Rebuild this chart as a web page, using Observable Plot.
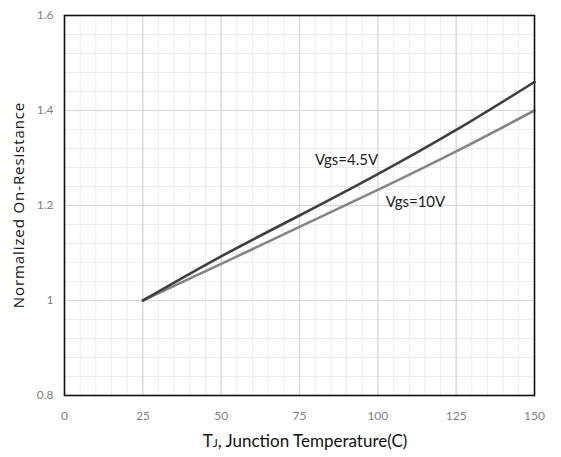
<!DOCTYPE html>
<html>
<head>
<meta charset="utf-8">
<script src="https://cdn.jsdelivr.net/npm/d3@7"></script>
<script src="https://cdn.jsdelivr.net/npm/@observablehq/plot@0.6"></script>
<style>
  html, body { margin: 0; padding: 0; background: #fff; }
  #chart svg { display: block; }
</style>
</head>
<body>
<div id="chart"></div>
<script>
const temperature = [25, 50, 75, 100, 125, 150];
const vgs45 = [1.0, 1.093, 1.179, 1.266, 1.359, 1.46];
const vgs10 = [1.0, 1.077, 1.155, 1.233, 1.314, 1.40];
const seriesNames = ["Vgs=4.5V", "Vgs=10V"];
const xTicks = [0, 25, 50, 75, 100, 125, 150];
const yTicks = [0.8, 1.0, 1.2, 1.4, 1.6];
const xMinor = d3.range(0, 151, 5);
const yMinor = d3.range(0.8, 1.6001, 0.04);
const labelPos = [
  {name: "Vgs=4.5V", t: 90, v: 1.295},
  {name: "Vgs=10V", t: 112, v: 1.207}
];

const rows = [];
temperature.forEach((t, i) => {
  rows.push({series: seriesNames[0], t, v: vgs45[i]});
  rows.push({series: seriesNames[1], t, v: vgs10[i]});
});

const font = "Lato, 'Open Sans', sans-serif";

const chart = Plot.plot({
  width: 561,
  height: 457,
  marginLeft: 64,
  marginRight: 27,
  marginTop: 15,
  marginBottom: 62,
  style: {fontFamily: font, background: "#fff"},
  x: {domain: [0, 150]},
  y: {domain: [0.8, 1.6]},
  marks: [
    Plot.ruleX(xMinor, {stroke: "#ececec", strokeWidth: 1}),
    Plot.ruleY(yMinor, {stroke: "#ececec", strokeWidth: 1}),
    Plot.ruleX(xTicks, {stroke: "#d6d6d6", strokeWidth: 1.2}),
    Plot.ruleY(yTicks, {stroke: "#d6d6d6", strokeWidth: 1.2}),
    Plot.axisX(xTicks, {tickSize: 0, tickPadding: 16, fontSize: 12, fill: "#7f7f7f", label: null}),
    Plot.axisY(yTicks, {tickSize: 0, tickPadding: 11, fontSize: 12, fill: "#7f7f7f", label: null,
      tickFormat: d => String(+d.toFixed(1))}),
    Plot.line(rows.filter(d => d.series === seriesNames[1]), {x: "t", y: "v", stroke: "#858585", strokeWidth: 2.6, curve: "natural"}),
    Plot.line(rows.filter(d => d.series === seriesNames[0]), {x: "t", y: "v", stroke: "#3f3f3f", strokeWidth: 2.6, curve: "natural"}),
    Plot.text(labelPos, {x: "t", y: "v", text: "name", fontSize: 15, fill: "#222"}),
    Plot.frame({stroke: "#111", strokeWidth: 1.6})
  ]
});

const svg = d3.select(chart);
// y axis title
svg.append("text")
  .attr("transform", "translate(20,205) rotate(-90)")
  .attr("text-anchor", "middle")
  .attr("dominant-baseline", "middle")
  .style("font-family", "'Open Sans', sans-serif")
  .style("font-size", "15px")
  .style("letter-spacing", "0.9px")
  .attr("fill", "#111")
  .text("Normalized On-Resistance");
// x axis title with small J
const xt = svg.append("text")
  .attr("x", 305)
  .attr("y", 447)
  .attr("text-anchor", "middle")
  .style("font-family", font)
  .style("font-size", "17px")
  .attr("fill", "#111");
xt.append("tspan").text("T");
xt.append("tspan").style("font-size", "12px").text("J");
xt.append("tspan").text(", Junction Temperature(C)");

document.getElementById("chart").appendChild(chart);
</script>
</body>
</html>
